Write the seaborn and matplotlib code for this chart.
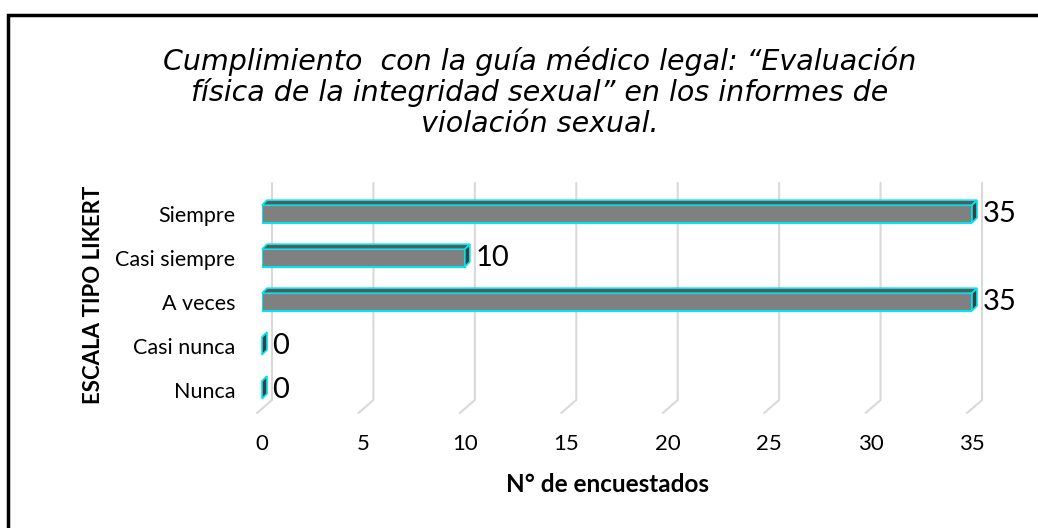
import numpy as np
import pandas as pd
import matplotlib
matplotlib.use('Agg')
import matplotlib.pyplot as plt
from matplotlib.patches import Polygon, Rectangle
import seaborn as sns

# Data
categorias = ['Siempre', 'Casi siempre', 'A veces', 'Casi nunca', 'Nunca']
encuestados = [35, 10, 35, 0, 0]
ticks_x = [0, 5, 10, 15, 20, 25, 30, 35]

titulo = ('Cumplimiento  con la guía médico legal: “Evaluación\n'
          'física de la integridad sexual” en los informes de\n'
          'violación sexual.')
etiqueta_x = 'N° de encuestados'
etiqueta_y = 'ESCALA TIPO LIKERT'

W, H = 1038, 528
sns.set_style('white')
plt.rcParams['font.family'] = ['Lato', 'DejaVu Sans']
plt.rcParams['text.color'] = 'black'
plt.rcParams['xtick.color'] = 'black'
plt.rcParams['ytick.color'] = 'black'

df = pd.DataFrame({'categoria': categorias, 'n': encuestados})

fig = plt.figure(figsize=(W / 100, H / 100), dpi=100)
ax = fig.add_axes([262 / W, 1 - 412 / H, 710 / W, 220 / H])
ax.patch.set_visible(False)

sns.barplot(data=df, x='n', y='categoria', orient='h', color='#808080',
            saturation=1, edgecolor='#00e5ee', linewidth=1.5, width=0.4, ax=ax)

ax.set_xlim(0, 35)
ax.set_ylim(4.5, -0.5)
ax.set_xticks(ticks_x)
ax.set_xticklabels([str(t) for t in ticks_x])
ax.tick_params(axis='x', length=0, pad=16, labelsize=16)
ax.tick_params(axis='y', length=0, pad=19, labelsize=15.5)
ax.set_xlabel('')
ax.set_ylabel('')
ax.grid(False)
for s in ax.spines.values():
    s.set_visible(False)


def to_fig(px, py):
    # display pixels -> figure fraction
    return fig.transFigure.inverted().transform((px, py))


# 3D-style gridlines (back wall + floor edge)
y_top = H - 183
y_back = H - 400
y_front = H - 413
for t in ticks_x:
    xd = ax.transData.transform((t, 0))[0]
    p1 = to_fig(xd + 10, y_top)
    p2 = to_fig(xd + 10, y_back)
    p3 = to_fig(xd - 5, y_front)
    fig.add_artist(plt.Line2D([p1[0], p2[0], p3[0]], [p1[1], p2[1], p3[1]],
                              color='#d9d9d9', lw=1.5, zorder=0))

# depth faces for bars
dx, dy = 5, 5
inv = ax.transData.inverted()
for p in list(ax.patches):
    x0, y0 = p.get_x(), p.get_y()
    w, h = p.get_width(), p.get_height()
    (ax0, ay0) = ax.transData.transform((x0, y0))
    (ax1, ay1) = ax.transData.transform((x0 + w, y0 + h))
    top, bot = max(ay0, ay1), min(ay0, ay1)
    left, right = min(ax0, ax1), max(ax0, ax1)
    top_face = [(left, top), (right, top), (right + dx, top + dy), (left + dx, top + dy)]
    end_face = [(right, bot), (right, top), (right + dx, top + dy), (right + dx, bot + dy)]
    for pts, col in [(top_face, '#595959'), (end_face, '#3f3f3f')]:
        poly = Polygon(inv.transform(pts), closed=True, facecolor=col,
                       edgecolor='#00e5ee', lw=1.2, clip_on=False, zorder=3)
        ax.add_patch(poly)

# value labels
for i, v in enumerate(encuestados):
    ax.annotate(str(v), (v, i), xytext=(7.5, 0), textcoords='offset points',
                ha='left', va='center', fontsize=21, color='black',
                annotation_clip=False)

fig.text(540 / W, 1 - 92 / H, titulo, ha='center', va='center', fontsize=20.5,
         style='italic', family=['DejaVu Sans'], linespacing=1.1)
fig.text(608 / W, 1 - 485 / H, etiqueta_x, ha='center', va='center',
         fontsize=17.5, fontweight='bold')
fig.text(93 / W, 1 - 295 / H, etiqueta_y, ha='center', va='center',
         fontsize=16, fontweight='bold', rotation=90)

# outer border
fig.add_artist(Rectangle((8 / W, -0.1), 1.2, 1 - 15 / H + 0.1,
                         transform=fig.transFigure, fill=False,
                         edgecolor='black', lw=2.5))

fig.savefig('out.png', dpi=100)
